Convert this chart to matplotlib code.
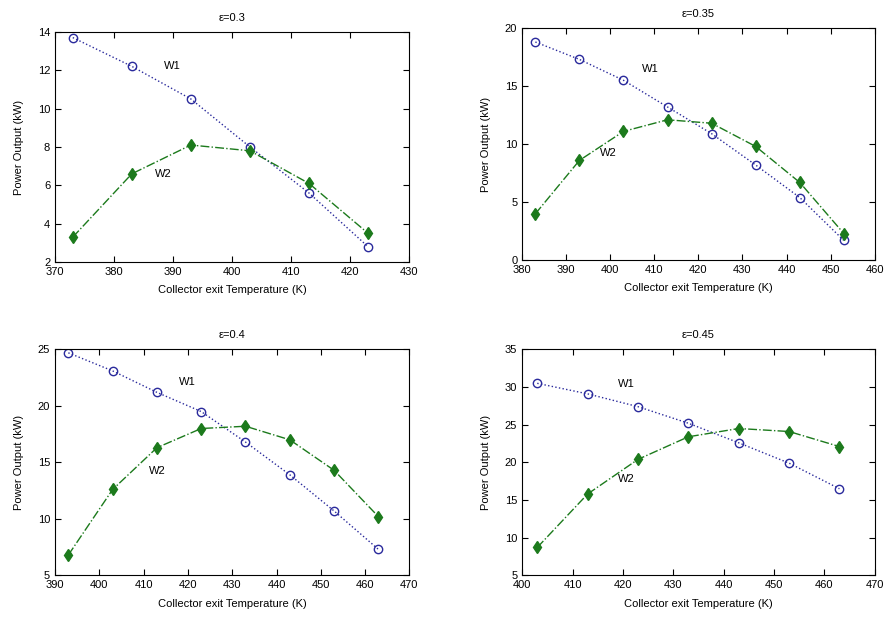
import numpy as np
import matplotlib
matplotlib.use("Agg")
import matplotlib.pyplot as plt

plt.rcParams["font.family"] = ["Liberation Sans", "DejaVu Sans"]
plt.rcParams["font.size"] = 8

# collector exit temperature (K) and power output (kW) per effectiveness case
titles = ["ε=0.3", "ε=0.35", "ε=0.4", "ε=0.45"]

t1 = [373, 383, 393, 403, 413, 423]
w1_1 = [13.7, 12.2, 10.5, 8.0, 5.6, 2.8]
w2_1 = [3.3, 6.6, 8.1, 7.8, 6.1, 3.5]

t2 = [383, 393, 403, 413, 423, 433, 443, 453]
w1_2 = [18.8, 17.3, 15.5, 13.2, 10.9, 8.2, 5.4, 1.7]
w2_2 = [4.0, 8.6, 11.1, 12.1, 11.8, 9.8, 6.7, 2.3]

t3 = [393, 403, 413, 423, 433, 443, 453, 463]
w1_3 = [24.7, 23.1, 21.2, 19.5, 16.8, 13.9, 10.7, 7.3]
w2_3 = [6.8, 12.6, 16.3, 18.0, 18.2, 17.0, 14.3, 10.2]

t4 = [403, 413, 423, 433, 443, 453, 463]
w1_4 = [30.5, 29.1, 27.4, 25.2, 22.6, 19.9, 16.5]
w2_4 = [8.7, 15.8, 20.4, 23.4, 24.5, 24.1, 22.1]

xlims = [(370, 430), (380, 460), (390, 470), (400, 470)]
ylims = [(2, 14), (0, 20), (5, 25), (5, 35)]
ysteps = [2, 5, 5, 5]
w1_text = [(389.8, 12.2), (409, 16.5), (419.8, 22.1), (420.7, 30.4)]
w2_text = [(388.4, 6.6), (399.5, 9.2), (413, 14.2), (420.7, 17.8)]

cases = [(t1, w1_1, w2_1), (t2, w1_2, w2_2), (t3, w1_3, w2_3), (t4, w1_4, w2_4)]

# axes boxes in figure fractions [left, bottom, width, height]
boxes = [
    [0.062, 0.580, 0.399, 0.369],
    [0.588, 0.583, 0.397, 0.372],
    [0.062, 0.078, 0.399, 0.362],
    [0.588, 0.078, 0.397, 0.362],
]

fig = plt.figure(figsize=(8.88, 6.24), dpi=100)
for i, (t, w1, w2) in enumerate(cases):
    ax = fig.add_axes(boxes[i])
    ax.plot(t, w1, linestyle=":", color="#2a2a9c", marker="o", markersize=6,
            markerfacecolor="none", markeredgecolor="#2a2a9c", linewidth=1)
    ax.plot(t, w2, linestyle="-.", color="#1c7a1c", marker="d", markersize=6,
            markerfacecolor="#1c7a1c", markeredgecolor="#1c7a1c", linewidth=1)
    ax.set_xlim(*xlims[i])
    ax.set_ylim(*ylims[i])
    ax.set_xticks(np.arange(xlims[i][0], xlims[i][1] + 1, 10))
    ax.set_yticks(np.arange(ylims[i][0], ylims[i][1] + 0.1, ysteps[i]))
    ax.tick_params(direction="in", top=True, right=True, length=4, labelsize=8)
    ax.text(*w1_text[i], "W1", ha="center", va="center", fontsize=8)
    ax.text(*w2_text[i], "W2", ha="center", va="center", fontsize=8)
    ax.set_title(titles[i], fontsize=8, pad=8)
    ax.set_xlabel("Collector exit Temperature (K)", fontsize=8, labelpad=6)
    ax.set_ylabel("Power Output (kW)", fontsize=8, labelpad=10)

fig.savefig("out.png", dpi=100)
